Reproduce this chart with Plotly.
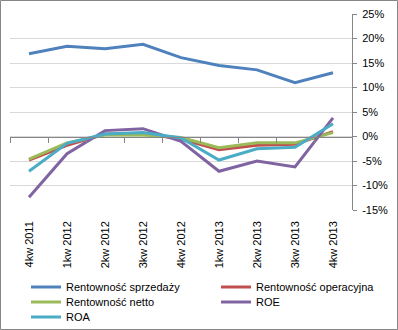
import plotly.graph_objects as go

categories = ["4kw 2011", "1kw 2012", "2kw 2012", "3kw 2012", "4kw 2012",
              "1kw 2013", "2kw 2013", "3kw 2013", "4kw 2013"]
sprzedazy = [16.9, 18.4, 17.9, 18.8, 16.1, 14.5, 13.6, 11.0, 13.0]
operacyjna = [-4.8, -1.8, 0.5, 0.6, -0.5, -2.7, -1.8, -1.6, 1.0]
netto = [-4.6, -1.3, 0.3, 0.3, -0.2, -2.3, -1.3, -1.3, 0.8]
roe = [-12.4, -3.5, 1.2, 1.6, -1.0, -7.1, -5.0, -6.2, 3.8]
roa = [-7.1, -1.4, 0.5, 0.8, -0.3, -4.8, -2.5, -2.2, 2.6]
y_ticks = [25, 20, 15, 10, 5, 0, -5, -10, -15]

series = [
    ("Rentowność sprzedaży", sprzedazy, "#4F81BD"),
    ("Rentowność operacyjna", operacyjna, "#C0504D"),
    ("Rentowność netto", netto, "#9BBB59"),
    ("ROE", roe, "#8064A2"),
    ("ROA", roa, "#4BACC6"),
]

W, H = 398, 330
ml, mr, mt, mb = 10, 46, 14, 120
ymin, ymax = -15, 25
pw = W - ml - mr
ph = H - mt - mb

# legend slot for each series: (column pixel x of legend box, row pixel y centre)
leg_cols = [26, 216]
leg_rows = [287, 302, 317]
slots = [(0, 0), (1, 0), (0, 1), (1, 1), (0, 2)]

font = dict(family="Liberation Sans, Arial, sans-serif", size=11, color="#000000")

fig = go.Figure()
legend_layouts = {}
for i, ((name, vals, col), (c, r)) in enumerate(zip(series, slots)):
    key = "legend" if i == 0 else f"legend{i + 1}"
    fig.add_trace(go.Scatter(x=categories, y=vals, mode="lines", name=name,
                             line=dict(color=col, width=3), legend=key))
    legend_layouts[key] = dict(
        orientation="h", xanchor="left", yanchor="middle",
        x=(leg_cols[c] - ml) / pw, y=-(leg_rows[r] - (H - mb)) / ph,
        font=font, itemwidth=30, bgcolor="rgba(0,0,0,0)", borderwidth=0)

# invisible trace to host the zero-line category axis
fig.add_trace(go.Scatter(x=categories, y=[0] * len(categories), xaxis="x2",
                         mode="lines", line=dict(width=0), showlegend=False,
                         hoverinfo="skip"))

zero_pos = (0 - ymin) / (ymax - ymin)

fig.update_layout(
    width=W, height=H,
    margin=dict(l=ml, r=mr, t=mt, b=mb, autoexpand=False),
    paper_bgcolor="white", plot_bgcolor="white",
    font=font,
    showlegend=True,
    xaxis=dict(type="category", showgrid=False, showline=False, ticks="",
               tickangle=-90, tickfont=font, range=[-0.5, 8.5], ticklabelstandoff=8),
    xaxis2=dict(type="category", overlaying="x", anchor="free", position=zero_pos,
                side="bottom", showline=True, linecolor="#868686", linewidth=1,
                ticks="outside", tickson="boundaries", ticklen=5, tickcolor="#868686",
                showticklabels=False, showgrid=False, range=[-0.5, 8.5]),
    yaxis=dict(side="right", range=[ymin, ymax], tickvals=y_ticks,
               ticktext=[f"{v}%" for v in y_ticks], showgrid=True,
               gridcolor="#D9D9D9", gridwidth=1, zeroline=False,
               showline=True, linecolor="#868686", ticks="outside", ticklen=4,
               tickcolor="#868686", tickfont=font, ticklabelstandoff=3),
    **legend_layouts,
)

# outer chart border
fig.add_shape(type="rect", xref="paper", yref="paper",
              x0=(0.5 - ml) / pw, x1=(W - 0.5 - ml) / pw,
              y0=(-(mb - 0.5)) / ph, y1=1 + (mt - 0.5) / ph,
              line=dict(color="#868686", width=1), layer="below")

fig.write_html("out.html")
